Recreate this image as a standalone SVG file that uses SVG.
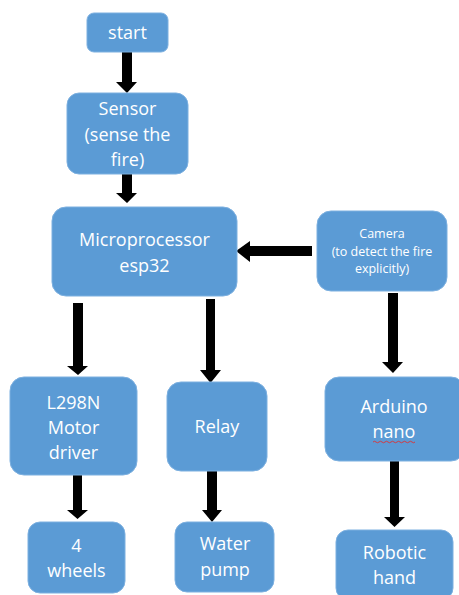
<svg xmlns="http://www.w3.org/2000/svg" width="459" height="595" viewBox="0 0 459 595">
<style>
.box{fill:#5B9BD5;stroke:#7DB0E0;stroke-width:1}
.t{font-family:"Open Sans","Noto Sans","Liberation Sans",sans-serif;fill:#FFFFFF;text-anchor:middle}
.l{font-size:18px}
.s{font-size:12.5px}
.arr{fill:#000000}
</style>
<rect width="459" height="595" fill="#FFFFFF"/>
<g id="connectors">
<path class="arr" d="M122,52 H132 V82 H137 L127,93 L116,82 H122 Z"/>
<path class="arr" d="M122,174 H132 V193 H137 L127,203 L116,193 H122 Z"/>
<path class="arr" d="M312,246 V256 H250 V262 L236,251 L250,241 V246 Z"/>
<path class="arr" d="M73,303 H83 V366 H88 L78,375 L67,366 H73 Z"/>
<path class="arr" d="M206,299 H215 V370 H221 L210.5,383 L200,370 H206 Z"/>
<path class="arr" d="M388,293 H398 V362 H403 L393,373 L382,362 H388 Z"/>
<path class="arr" d="M73,475 H82 V510 H88 L77.5,519 L67,510 H73 Z"/>
<path class="arr" d="M207,471 H217 V510 H222 L212,522 L202,510 H207 Z"/>
<path class="arr" d="M390,461 H399 V517 H405 L394.5,527 L384,517 H390 Z"/>
</g>
<g id="start">
<rect class="box" x="87" y="13" width="81" height="39" rx="7"/>
<text class="t l" x="127.5" y="39">start</text>
</g>
<g id="sensor">
<rect class="box" x="67" y="93" width="121" height="81" rx="12"/>
<text class="t l" x="127.5" y="115">Sensor</text>
<text class="t l" x="127.5" y="141">(sense the</text>
<text class="t l" x="127.5" y="166">fire)</text>
</g>
<g id="microprocessor">
<rect class="box" x="52" y="207" width="185" height="89" rx="14"/>
<text class="t l" x="144.5" y="246">Microprocessor</text>
<text class="t l" x="144.5" y="272">esp32</text>
</g>
<g id="camera">
<rect class="box" x="317" y="211" width="130" height="80" rx="14"/>
<text class="t s" x="382" y="238">Camera</text>
<text class="t s" x="382" y="256">(to detect the fire</text>
<text class="t s" x="382" y="273">explicitly)</text>
</g>
<g id="l298n">
<rect class="box" x="10" y="377" width="127" height="98" rx="14"/>
<text class="t l" x="73.5" y="409">L298N</text>
<text class="t l" x="73.5" y="434">Motor</text>
<text class="t l" x="73.5" y="459">driver</text>
</g>
<g id="relay">
<rect class="box" x="167" y="382" width="100" height="89" rx="14"/>
<text class="t l" x="217" y="433">Relay</text>
</g>
<g id="arduino">
<rect class="box" x="325" y="377" width="140" height="84" rx="14"/>
<text class="t l" x="394" y="413">Arduino</text>
<text class="t l" x="394" y="438">nano</text>
<path d="M373,442 q1.5,-1.5 3,0 t3,0 t3,0 t3,0 t3,0 t3,0 t3,0 t3,0 t3,0 t3,0 t3,0 t3,0 t3,0 t3,0" fill="none" stroke="#E03030" stroke-width="0.9"/>
</g>
<g id="wheels">
<rect class="box" x="28" y="522" width="97" height="71" rx="12"/>
<text class="t l" x="76.5" y="552">4</text>
<text class="t l" x="76.5" y="577">wheels</text>
</g>
<g id="waterpump">
<rect class="box" x="175" y="522" width="99" height="70" rx="12"/>
<text class="t l" x="225" y="550">Water</text>
<text class="t l" x="225" y="576">pump</text>
</g>
<g id="robotichand">
<rect class="box" x="336" y="530" width="117" height="70" rx="12"/>
<text class="t l" x="394.5" y="559">Robotic</text>
<text class="t l" x="394.5" y="584">hand</text>
</g>
</svg>
